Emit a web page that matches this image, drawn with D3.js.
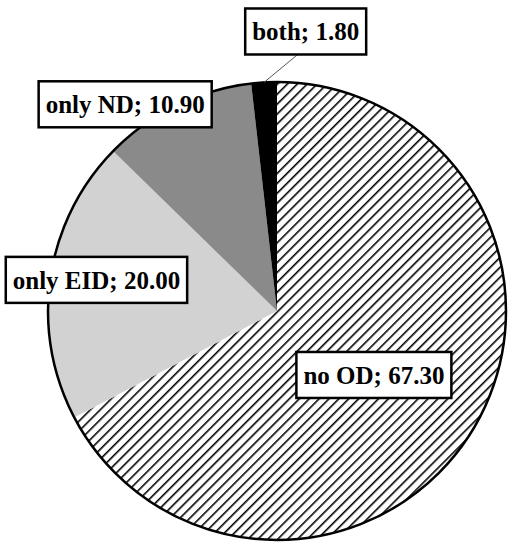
<!DOCTYPE html>
<html><head><meta charset="utf-8">
<script src="https://cdn.jsdelivr.net/npm/d3@7"></script>
<style>html,body{margin:0;padding:0;background:#fff;}</style>
</head><body>
<svg id="chart" width="515" height="550"></svg>
<script>
const categories = ["no OD", "only EID", "only ND", "both"];
const values = [67.30, 20.00, 10.90, 1.80];
const fills = ["url(#hatch)", "#d2d2d2", "#8a8a8a", "#000000"];
// label placement: radius (fraction of pie radius) and angle nudge (deg)
const labelRadius = [0.507, 0.80, 1.12, 1.227];
const labelNudge = [2.3, 1.5, -10.2, 9.1];

const svg = d3.select("#chart");
const cx = 277, cy = 311, R = 229;

const defs = svg.append("defs");
const pat = defs.append("pattern").attr("id", "hatch").attr("patternUnits", "userSpaceOnUse")
  .attr("width", 7).attr("height", 7).attr("patternTransform", "rotate(45)");
pat.append("rect").attr("width", 7).attr("height", 7).attr("fill", "#fff");
pat.append("line").attr("x1", 0).attr("y1", 0).attr("x2", 0).attr("y2", 7)
  .attr("stroke", "#000").attr("stroke-width", 3.2);

const data = categories.map((c, i) => ({ cat: c, value: values[i], i }));
const pie = d3.pie().sort(null).value(d => d.value);
const arcs = pie(data);
const arc = d3.arc().innerRadius(0).outerRadius(R);

const g = svg.append("g").attr("transform", `translate(${cx},${cy})`);
g.selectAll("path.slice").data(arcs).join("path").attr("class", "slice")
  .attr("d", arc).attr("fill", d => fills[d.data.i]).attr("stroke", "none");

g.append("circle").attr("r", R).attr("fill", "none").attr("stroke", "#000").attr("stroke-width", 2.5);

const fmt = d3.format(".2f");
arcs.forEach(a => {
  const i = a.data.i;
  const mid = (a.startAngle + a.endAngle) / 2 + labelNudge[i] * Math.PI / 180;
  const r = labelRadius[i] * R;
  const x = r * Math.sin(mid), y = -r * Math.cos(mid);
  if (i === 3) {
    const ex = R * Math.sin((a.startAngle + a.endAngle) / 2);
    const ey = -R * Math.cos((a.startAngle + a.endAngle) / 2);
    g.append("line").attr("x1", ex).attr("y1", ey).attr("x2", x - 8).attr("y2", y + 23)
      .attr("stroke", "#555").attr("stroke-width", 1);
  }
  const lg = g.append("g").attr("transform", `translate(${x},${y})`);
  const rect = lg.append("rect");
  const t = lg.append("text").attr("text-anchor", "middle").attr("dy", "0.36em")
    .attr("font-family", "Liberation Serif, serif").attr("font-weight", "bold")
    .attr("font-size", 25).attr("fill", "#000")
    .text(`${a.data.cat}; ${fmt(a.data.value)}`);
  const bb = t.node().getBBox();
  const w = bb.width + 14, h = 46;
  rect.attr("x", -w / 2).attr("y", -h / 2).attr("width", w).attr("height", h)
    .attr("fill", "#fff").attr("stroke", "#000").attr("stroke-width", 2.5);
});
</script>
</body></html>
